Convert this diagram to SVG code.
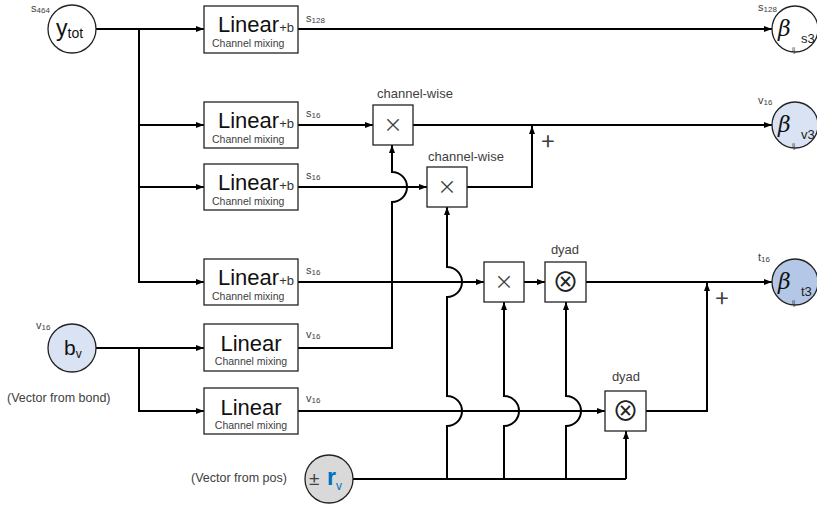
<svg xmlns="http://www.w3.org/2000/svg" width="817" height="508" viewBox="0 0 817 508">
<style>
text{font-family:"Liberation Sans",Arial,sans-serif;}
.box{fill:#fff;stroke:#222;stroke-width:1.3;}
.node{stroke:#222;stroke-width:1.3;}
.ln{fill:none;stroke:#000;stroke-width:2;}
.lin{font-size:22px;fill:#111;}
.pb{font-size:13px;fill:#333;}
.cm{font-size:10.5px;fill:#404040;}
.lab{font-size:11px;fill:#404040;}
.sub{font-size:8px;}
.op{font-size:13px;fill:#404040;}
.mul{font-family:"Noto Sans CJK JP","DejaVu Sans",sans-serif;font-size:19px;fill:#404040;text-anchor:middle;}
.otimes{font-family:"Noto Sans CJK JP","DejaVu Sans",sans-serif;font-size:27px;fill:#222;text-anchor:middle;}
.beta{font-family:"DejaVu Serif",serif;font-style:italic;font-size:22px;fill:#111;}
.bs{font-size:13px;fill:#222;}
.ij{font-size:7px;fill:#333;}
.plus{font-family:"Noto Sans CJK JP","Liberation Sans",sans-serif;font-size:24px;fill:#404040;text-anchor:middle;}
.note{font-size:12.5px;fill:#404040;}
</style>
<defs>
<marker id="ar" markerWidth="8" markerHeight="6" refX="8" refY="3" orient="auto" markerUnits="userSpaceOnUse">
<path d="M0,0 L8,3 L0,6 z" fill="#000"/>
</marker>
</defs>

<g id="connectors">
<path class="ln" d="M96,29 H204" marker-end="url(#ar)"/>
<path class="ln" d="M139,29 V282 H204" marker-end="url(#ar)"/>
<path class="ln" d="M139,125 H204" marker-end="url(#ar)"/>
<path class="ln" d="M139,187 H204" marker-end="url(#ar)"/>
<path class="ln" d="M96,348 H204" marker-end="url(#ar)"/>
<path class="ln" d="M139,348 V411 H204" marker-end="url(#ar)"/>
<path class="ln" d="M298,29 H772" marker-end="url(#ar)"/>
<path class="ln" d="M298,125 H373" marker-end="url(#ar)"/>
<path class="ln" d="M413,125 H772" marker-end="url(#ar)"/>
<path class="ln" d="M298,187 H427" marker-end="url(#ar)"/>
<path class="ln" d="M467,187 H532 V126" marker-end="url(#ar)"/>
<path class="ln" d="M298,348 H392 V202 A15,15 0 0 0 392,172 V145" marker-end="url(#ar)"/>
<path class="ln" d="M298,282 H484" marker-end="url(#ar)"/>
<path class="ln" d="M447,479 V426 A15,15 0 0 0 447,396 V297 A15,15 0 0 0 447,267 V207" marker-end="url(#ar)"/>
<path class="ln" d="M524,282 H545" marker-end="url(#ar)"/>
<path class="ln" d="M586,282 H772" marker-end="url(#ar)"/>
<path class="ln" d="M504,479 V426 A15,15 0 0 0 504,396 V302" marker-end="url(#ar)"/>
<path class="ln" d="M566,479 V426 A15,15 0 0 0 566,396 V302" marker-end="url(#ar)"/>
<path class="ln" d="M626,479 V431" marker-end="url(#ar)"/>
<path class="ln" d="M298,411 H605" marker-end="url(#ar)"/>
<path class="ln" d="M646,411 H707 V283" marker-end="url(#ar)"/>
<path class="ln" d="M353,479 H626"/>
<text class="lab" x="306" y="22">s<tspan class="sub" dy="1">128</tspan></text>
<text class="lab" x="306" y="117">s<tspan class="sub" dy="1">16</tspan></text>
<text class="lab" x="306" y="179">s<tspan class="sub" dy="1">16</tspan></text>
<text class="lab" x="306" y="274">s<tspan class="sub" dy="1">16</tspan></text>
<text class="lab" x="306" y="338">v<tspan class="sub" dy="1">16</tspan></text>
<text class="lab" x="306" y="402">v<tspan class="sub" dy="1">16</tspan></text>
<text class="plus" x="548" y="150">+</text>
<text class="plus" x="722" y="307">+</text>
</g>

<g id="y_tot">
<circle class="node" cx="72" cy="29" r="24" fill="#fff"/>
<text x="56" y="36" font-size="23" fill="#111">y<tspan font-size="14" dy="2">tot</tspan></text>
<text class="lab" x="31" y="12">s<tspan class="sub" dy="1">464</tspan></text>
</g>

<g id="b_v">
<circle class="node" cx="72" cy="348" r="24" fill="#dae3f3"/>
<text x="64" y="355" font-size="21" fill="#111">b<tspan font-size="12" dy="3">v</tspan></text>
<text class="lab" x="36" y="329">v<tspan class="sub" dy="1">16</tspan></text>
<text class="note" x="7" y="402">(Vector from bond)</text>
</g>

<g id="r_v">
<circle class="node" cx="329" cy="479" r="24" fill="#d9d9d9"/>
<text x="309" y="485" font-size="19" fill="#404040">±</text>
<text x="327" y="485" font-size="23" font-weight="bold" fill="#0070c0">r<tspan font-size="12" font-weight="normal" dy="5">v</tspan></text>
<text class="note" x="191" y="482">(Vector from pos)</text>
</g>

<g id="lin1">
<rect class="box" x="204" y="6" width="94" height="47"/>
<text class="lin" x="218" y="32">Linear<tspan class="pb">+b</tspan></text>
<text class="cm" x="212" y="47">Channel mixing</text>
</g>
<g id="lin2">
<rect class="box" x="204" y="102" width="94" height="46"/>
<text class="lin" x="218" y="128">Linear<tspan class="pb">+b</tspan></text>
<text class="cm" x="212" y="143">Channel mixing</text>
</g>
<g id="lin3">
<rect class="box" x="204" y="164" width="94" height="46"/>
<text class="lin" x="218" y="190">Linear<tspan class="pb">+b</tspan></text>
<text class="cm" x="212" y="205">Channel mixing</text>
</g>
<g id="lin4">
<rect class="box" x="204" y="259" width="94" height="46"/>
<text class="lin" x="218" y="285">Linear<tspan class="pb">+b</tspan></text>
<text class="cm" x="212" y="300">Channel mixing</text>
</g>
<g id="lin5">
<rect class="box" x="204" y="324" width="94" height="47"/>
<text class="lin" x="251" y="351" text-anchor="middle">Linear</text>
<text class="cm" x="251" y="365" text-anchor="middle">Channel mixing</text>
</g>
<g id="lin6">
<rect class="box" x="204" y="388" width="94" height="46"/>
<text class="lin" x="251" y="415" text-anchor="middle">Linear</text>
<text class="cm" x="251" y="429" text-anchor="middle">Channel mixing</text>
</g>

<g id="mul1">
<rect class="box" x="373" y="105" width="40" height="40"/>
<text class="mul" x="393" y="132">×</text>
<text class="op" x="377" y="98">channel-wise</text>
</g>
<g id="mul2">
<rect class="box" x="427" y="167" width="40" height="40"/>
<text class="mul" x="447" y="194">×</text>
<text class="op" x="428" y="161">channel-wise</text>
</g>
<g id="mul3">
<rect class="box" x="484" y="262" width="40" height="40"/>
<text class="mul" x="504" y="289">×</text>
</g>
<g id="dyad1">
<rect class="box" x="545" y="262" width="41" height="40"/>
<text class="otimes" x="565.5" y="292">⊗</text>
<text class="op" x="565" y="254" text-anchor="middle">dyad</text>
</g>
<g id="dyad2">
<rect class="box" x="605" y="391" width="41" height="40"/>
<text class="otimes" x="625.5" y="421">⊗</text>
<text class="op" x="626" y="381" text-anchor="middle">dyad</text>
</g>

<g id="beta_s3">
<circle class="node" cx="795" cy="29" r="23" fill="#fff"/>
<text class="beta" x="778" y="36">β</text>
<text class="bs" x="801" y="43">s3</text>
<text class="ij" x="792" y="52">ij</text>
<text class="lab" x="758" y="11">s<tspan class="sub" dy="1">128</tspan></text>
</g>
<g id="beta_v3">
<circle class="node" cx="795" cy="125" r="23" fill="#dae3f3"/>
<text class="beta" x="778" y="132">β</text>
<text class="bs" x="801" y="139">v3</text>
<text class="ij" x="792" y="148">ij</text>
<text class="lab" x="758" y="104">v<tspan class="sub" dy="1">16</tspan></text>
</g>
<g id="beta_t3">
<circle class="node" cx="795" cy="282" r="23" fill="#b4c7e7"/>
<text class="beta" x="778" y="289">β</text>
<text class="bs" x="801" y="296">t3</text>
<text class="ij" x="792" y="305">ij</text>
<text class="lab" x="758" y="261">t<tspan class="sub" dy="1">16</tspan></text>
</g>
</svg>
